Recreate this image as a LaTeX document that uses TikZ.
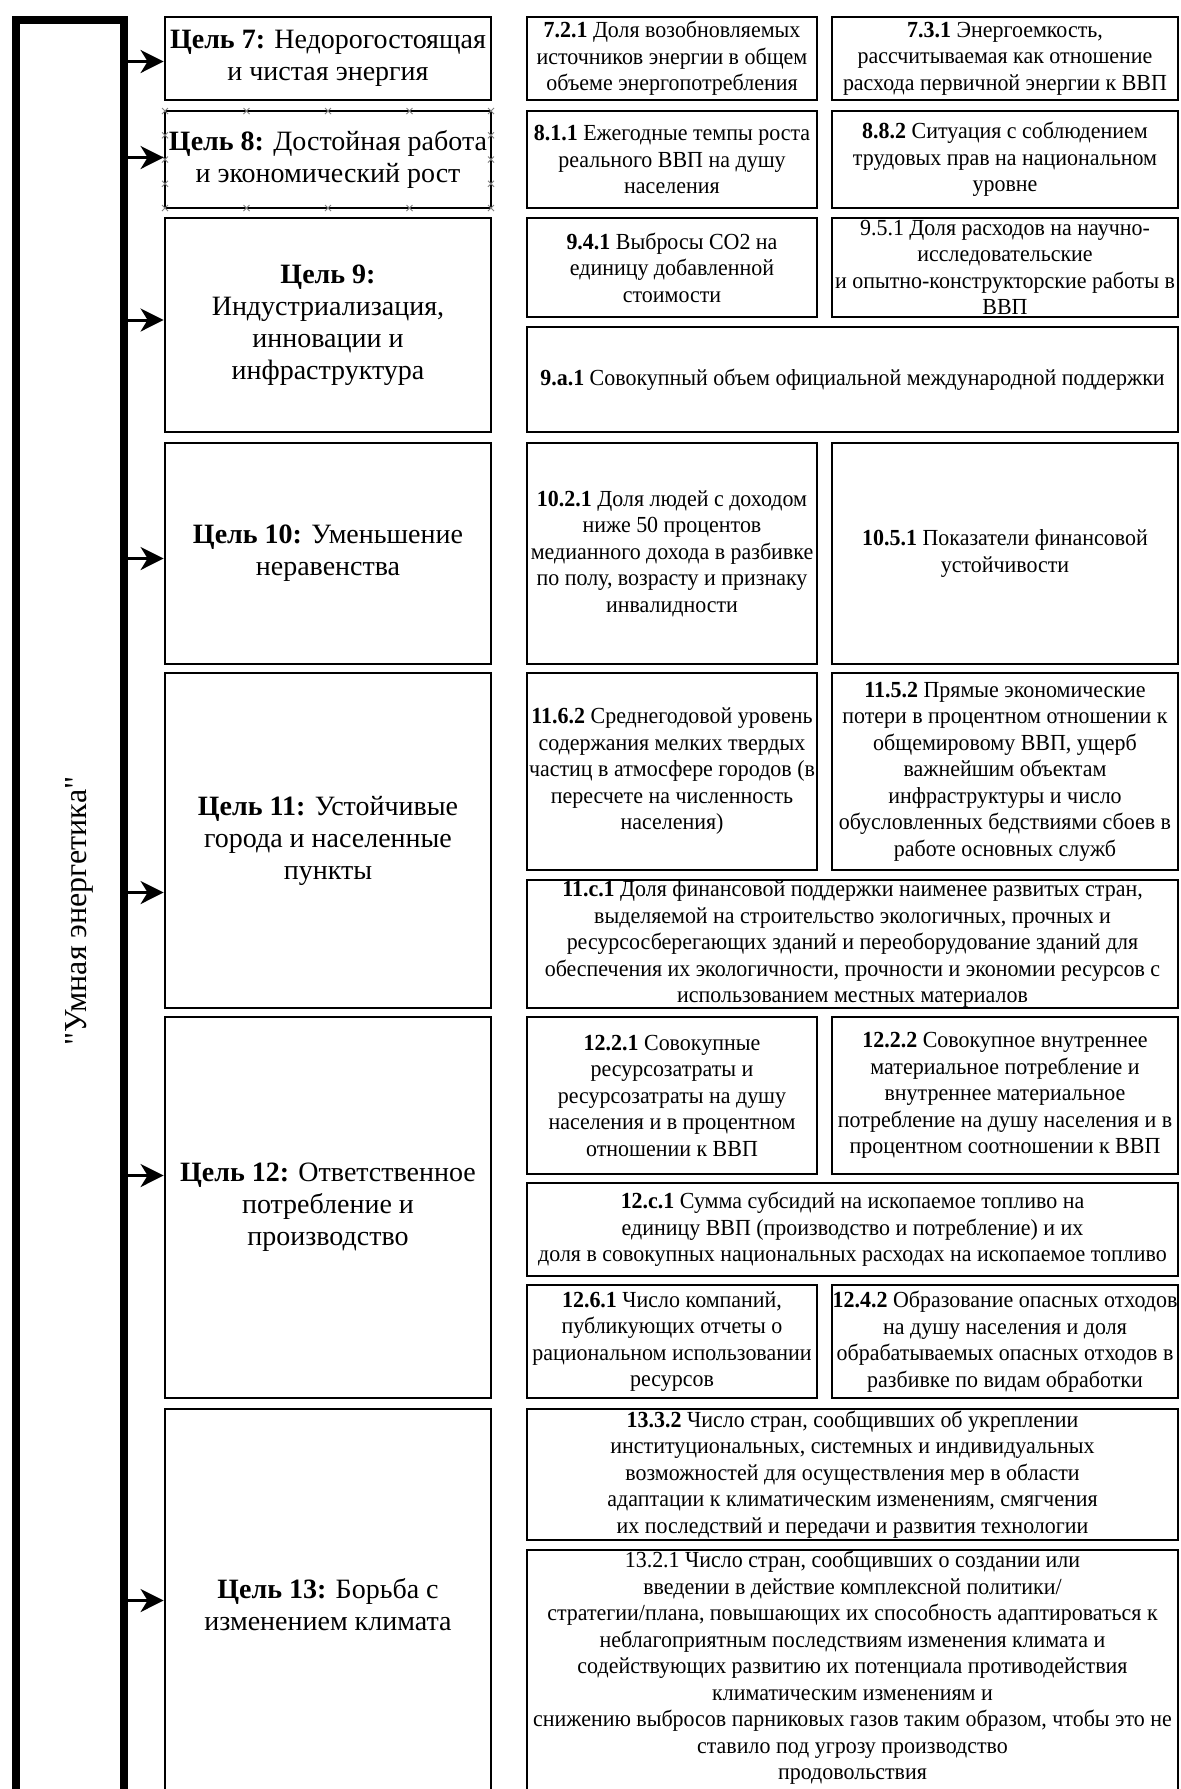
\documentclass[tikz,border=0pt]{standalone}
\usepackage{fontspec}
\setmainfont{Liberation Serif}
\newfontfamily\indfont[FakeStretch=0.955]{Liberation Serif}
\newfontfamily\titlefont[Ligatures=TeXOff]{Liberation Serif}
\usetikzlibrary{arrows.meta}
\newcommand\gfont{\fontsize{28}{32}\selectfont}
\newcommand\ifont{\indfont\fontsize{23}{26.5}\selectfont}
% name, x1, y1, x2, y2, text style, text
\newcommand\mybox[7]{%
  \node[boxst, minimum width={#4-#2}, minimum height={#5-#3}] (#1) at ({(#2+#4)/2},{(#3+#5)/2}) {};
  \node[#6] (#1-t) at (#1.center) {#7};}
\begin{document}
\begin{tikzpicture}[x=1pt,y=-1pt,
  boxst/.style={draw=black, line width=2.8pt, inner sep=0pt},
  gtxt/.style={align=center, font=\gfont, inner sep=0pt},
  itxt/.style={align=center, font=\ifont, inner sep=0pt},
  arr/.style={line width=3pt, -{Stealth[length=23pt, width=23pt, inset=7pt]}},
  handle/.style={draw=gray, line width=1pt}]
\useasboundingbox (0,0) rectangle (1181,1789);
\clip (0,0) rectangle (1181,1789);
\fill[white] (0,0) rectangle (1181,1789);

% left frame
\node[draw=black, line width=8pt, minimum width=108, minimum height=1900, inner sep=0pt] (lbox) at (70,969.5) {};
\node[rotate=90, font=\titlefont\fontsize{32}{32}\selectfont, inner sep=0pt] (title) at (79,911) {"Умная энергетика"};

% goals
\mybox{g7}{165}{17}{491}{100}{gtxt}{\textbf{Цель 7:} Недорогостоящая\\и чистая энергия}
\mybox{g8}{165}{111}{491}{208}{gtxt}{\textbf{Цель 8:} Достойная работа\\и экономический рост}
\mybox{g9}{165}{218}{491}{432}{gtxt}{\textbf{Цель 9:}\\Индустриализация,\\инновации и\\инфраструктура}
\mybox{g10}{165}{443}{491}{664}{gtxt}{\textbf{Цель 10:} Уменьшение\\неравенства}
\mybox{g11}{165}{673}{491}{1008}{gtxt}{\textbf{Цель 11:} Устойчивые\\города и населенные\\пункты}
\mybox{g12}{165}{1017}{491}{1398}{gtxt}{\textbf{Цель 12:} Ответственное\\потребление и\\производство}
\mybox{g13}{165}{1409}{491}{1800}{gtxt}{\textbf{Цель 13:} Борьба с\\изменением климата}

% selection handles on goal 8
\foreach \hx in {165,246.5,328,409.5,491}{
  \foreach \hy in {111,208}{
    \draw[handle] (\hx-3,\hy-3) -- (\hx+3,\hy+3) (\hx-3,\hy+3) -- (\hx+3,\hy-3);}}
\foreach \hy in {135.25,159.5,183.75}{
  \foreach \hx in {165,491}{
    \draw[handle] (\hx-3,\hy-3) -- (\hx+3,\hy+3) (\hx-3,\hy+3) -- (\hx+3,\hy-3);}}

% indicators
\mybox{i721}{527}{17}{817}{100}{itxt}{\textbf{7.2.1} Доля возобновляемых\\источников энергии в общем\\объеме энергопотребления}
\mybox{i731}{832}{17}{1178}{100}{itxt}{\textbf{7.3.1} Энергоемкость,\\рассчитываемая как отношение\\расхода первичной энергии к ВВП}
\mybox{i811}{527}{111}{817}{208}{itxt}{\textbf{8.1.1} Ежегодные темпы роста\\реального ВВП на душу\\населения}
\mybox{i882}{832}{111}{1178}{208}{itxt}{\textbf{8.8.2} Ситуация с соблюдением\\трудовых прав на национальном\\уровне}
\mybox{i941}{527}{218}{817}{317}{itxt}{\textbf{9.4.1} Выбросы СО2 на\\единицу добавленной\\стоимости}
\mybox{i951}{832}{218}{1178}{317}{itxt}{9.5.1 Доля расходов на научно-\\исследовательские\\и опытно-конструкторские работы в\\ВВП}
\mybox{i9a1}{527}{327}{1178}{432}{itxt}{\textbf{9.a.1} Совокупный объем официальной международной поддержки}
\mybox{i1021}{527}{443}{817}{664}{itxt}{\textbf{10.2.1} Доля людей с доходом\\ниже 50 процентов\\медианного дохода в разбивке\\по полу, возрасту и признаку\\инвалидности}
\mybox{i1051}{832}{443}{1178}{664}{itxt}{\textbf{10.5.1} Показатели финансовой\\устойчивости}
\mybox{i1162}{527}{673}{817}{870}{itxt}{\textbf{11.6.2} Среднегодовой уровень\\содержания мелких твердых\\частиц в атмосфере городов (в\\пересчете на численность\\населения)}
\mybox{i1152}{832}{673}{1178}{870}{itxt}{\textbf{11.5.2} Прямые экономические\\потери в процентном отношении к\\общемировому ВВП, ущерб\\важнейшим объектам\\инфраструктуры и число\\обусловленных бедствиями сбоев в\\работе основных служб}
\mybox{i11c1}{527}{880}{1178}{1008}{itxt}{\textbf{11.c.1} Доля финансовой поддержки наименее развитых стран,\\выделяемой на строительство экологичных, прочных и\\ресурсосберегающих зданий и переоборудование зданий для\\обеспечения их экологичности, прочности и экономии ресурсов с\\использованием местных материалов}
\mybox{i1221}{527}{1017}{817}{1174}{itxt}{\textbf{12.2.1} Совокупные\\ресурсозатраты и\\ресурсозатраты на душу\\населения и в процентном\\отношении к ВВП}
\mybox{i1222}{832}{1017}{1178}{1174}{itxt}{\textbf{12.2.2} Совокупное внутреннее\\материальное потребление и\\внутреннее материальное\\потребление на душу населения и в\\процентном соотношении к ВВП}
\mybox{i12c1}{527}{1183}{1178}{1276}{itxt}{\textbf{12.c.1} Сумма субсидий на ископаемое топливо на\\единицу ВВП (производство и потребление) и их\\доля в совокупных национальных расходах на ископаемое топливо}
\mybox{i1261}{527}{1285}{817}{1398}{itxt}{\textbf{12.6.1} Число компаний,\\публикующих отчеты о\\рациональном использовании\\ресурсов}
\mybox{i1242}{832}{1285}{1178}{1398}{itxt}{\textbf{12.4.2} Образование опасных отходов\\на душу населения и доля\\обрабатываемых опасных отходов в\\разбивке по видам обработки}
\mybox{i1332}{527}{1409}{1178}{1540}{itxt}{\textbf{13.3.2} Число стран, сообщивших об укреплении\\институциональных, системных и индивидуальных\\возможностей для осуществления мер в области\\адаптации к климатическим изменениям, смягчения\\их последствий и передачи и развития технологии}
\node[boxst, minimum width=651, minimum height=250] (i1321) at (852.5,1675) {};
\node[itxt, anchor=north] (i1321-t) at (852.5,1551) {13.2.1 Число стран, сообщивших о создании или\\введении в действие комплексной политики/\\стратегии/плана, повышающих их способность адаптироваться к\\неблагоприятным последствиям изменения климата и\\содействующих развитию их потенциала противодействия\\климатическим изменениям и\\снижению выбросов парниковых газов таким образом, чтобы это не\\ставило под угрозу производство\\продовольствия};

% arrows
\path (g7.west)  ++(0,3)   coordinate (a7);
\path (g8.west)  ++(0,-2)  coordinate (a8);
\path (g9.west)  ++(0,-5)  coordinate (a9);
\path (g10.west) ++(0,5)   coordinate (a10);
\path (g11.west) ++(0,52)  coordinate (a11);
\path (g12.west) ++(0,-32) coordinate (a12);
\path (g13.west) ++(0,-4)  coordinate (a13);
\foreach \a in {a7,a8,a9,a10,a11,a12,a13}{
  \draw[arr] (\a -| lbox.east) -- (\a);}
\end{tikzpicture}
\end{document}
